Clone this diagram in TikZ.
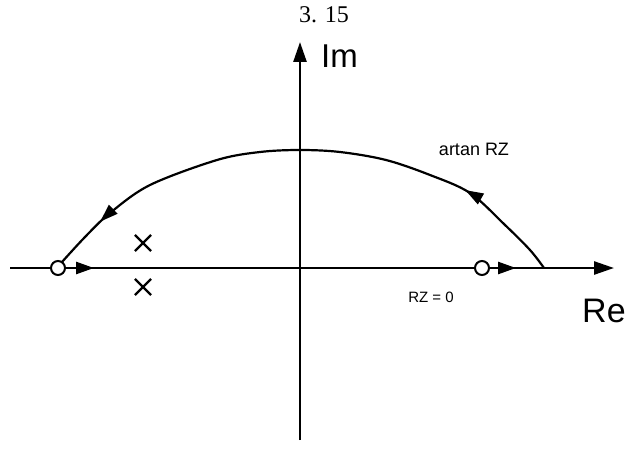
\documentclass[tikz,border=0pt]{standalone}
\usepackage{fontspec}
\setmainfont{Liberation Sans}
\newfontfamily\serifont{Liberation Serif}
\usetikzlibrary{arrows.meta,decorations.markings,shapes.misc}
\begin{document}
\begin{tikzpicture}[x=1pt,y=-1pt,
  axis/.style={line width=2.6pt,-{Triangle[length=20pt,width=13pt]}},
  smallarr/.style={line width=2.6pt,-{Triangle[length=18pt,width=12pt]}},
  locus/.style={line width=2.2pt},
  zero/.style={circle,draw,fill=white,line width=2pt,minimum size=14pt,inner sep=0pt},
  pole/.style={cross out,draw,line width=2.2pt,minimum size=14pt,inner sep=0pt},
  lbl/.style={inner sep=0pt}]
\useasboundingbox (0,0) rectangle (629,452);
% axes
\coordinate (xs) at (10,268);
\coordinate (xe) at (614,268);
\coordinate (ys) at (300,440);
\coordinate (ye) at (300,42);
\draw[axis] (xs) -- (xe);
\draw[axis] (ys) -- (ye);
% root locus arc
\draw[locus,postaction={decorate},
  decoration={markings,
    mark=at position 0.2 with {\arrow{Triangle[length=18pt,width=12pt]}},
    mark=at position 0.9 with {\arrow{Triangle[length=18pt,width=12pt]}}}]
  plot[smooth,tension=0.55] coordinates {(544,268) (530,250) (505,225) (470,193) (430,175) (386,160) (340,152) (300,150) (260,152) (217,160) (150,185) (110,213) (85,237) (62,262)};
% small arrows on real axis
\coordinate (a1s) at (66,268);
\coordinate (a1e) at (94,268);
\coordinate (a2s) at (490,268);
\coordinate (a2e) at (516,268);
\draw[smallarr] (a1s) -- (a1e);
\draw[smallarr] (a2s) -- (a2e);
% zeros and poles
\node[zero] (z1) at (58,268) {};
\node[zero] (z2) at (482,268) {};
\node[pole] (p1) at (143,243) {};
\node[pole] (p2) at (143,287) {};
% labels
\node[lbl,anchor=base,font=\serifont\fontsize{24}{26}\selectfont] (title) at (324,23) {3. 15};
\node[lbl,anchor=base west,font=\fontsize{33}{36}\selectfont] (im) at (321,67) {Im};
\node[lbl,anchor=base west,font=\fontsize{34}{38}\selectfont] (re) at (582,322) {Re};
\node[lbl,font=\fontsize{18}{20}\selectfont] (artan) at (474,149) {artan RZ};
\node[lbl,font=\fontsize{15}{17}\selectfont] (rz0) at (431,297) {RZ = 0};
\end{tikzpicture}
\end{document}
